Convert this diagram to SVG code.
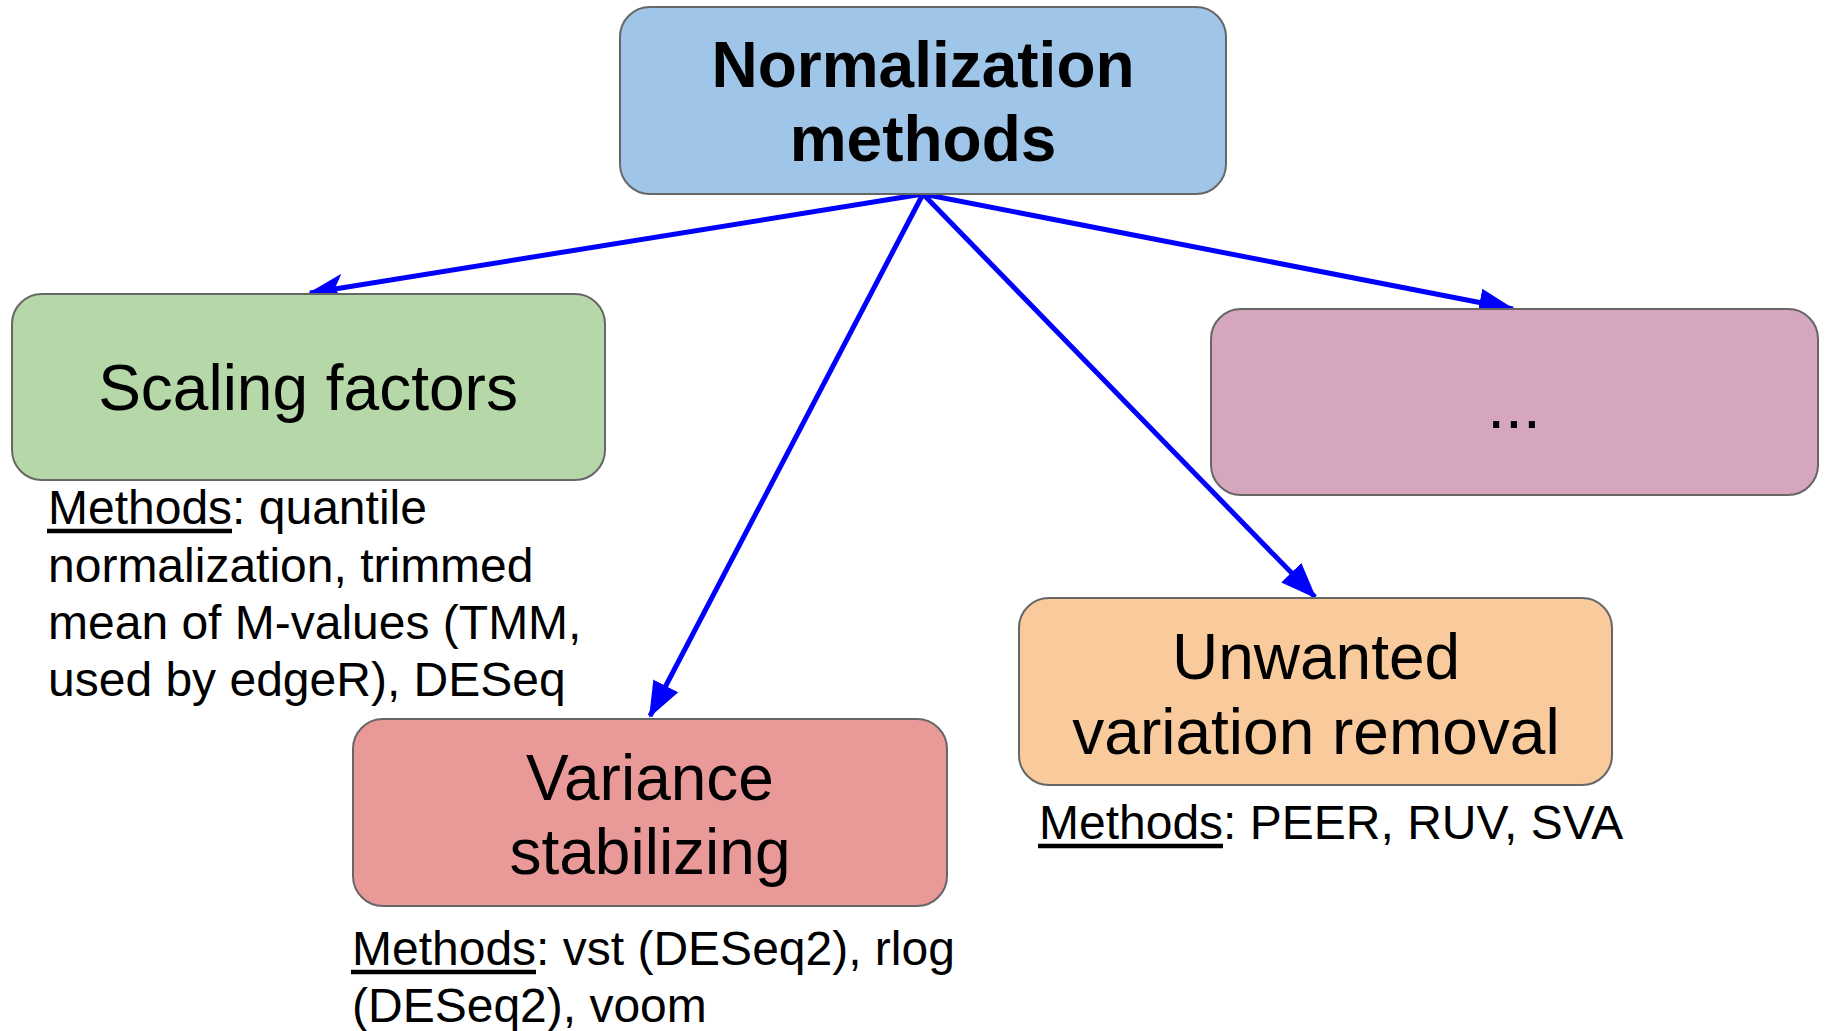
<svg xmlns="http://www.w3.org/2000/svg" width="1828" height="1031" viewBox="0 0 1828 1031">
  <style>
    .box { stroke: #666666; stroke-width: 2; }
    .title { font-family: "Liberation Sans", Arial, sans-serif; font-size: 64px; fill: #000; text-anchor: middle; }
    .bold { font-weight: bold; }
    .note { font-family: "Liberation Sans", Arial, sans-serif; font-size: 48px; fill: #000; }
    .uline { stroke: #000; stroke-width: 4.5; }
    .edge { stroke: #0000ff; stroke-width: 5; fill: none; marker-end: url(#arrow); }
    .edge.barbed { marker-end: url(#arrow-barbed); }
  </style>
  <defs>
    <marker id="arrow" viewBox="0 0 36 28" refX="34" refY="14" markerWidth="36" markerHeight="28" markerUnits="userSpaceOnUse" orient="auto">
      <path d="M0,0 L36,14 L0,28 z" fill="#0000ff"/>
    </marker>
    <marker id="arrow-barbed" viewBox="0 0 36 28" refX="34" refY="14" markerWidth="36" markerHeight="28" markerUnits="userSpaceOnUse" orient="auto">
      <path d="M0,0 L36,14 L0,28 L9,14 z" fill="#0000ff"/>
    </marker>
  </defs>

  <rect width="1828" height="1031" fill="#ffffff"/>

  <g id="connectors">
    <line class="edge barbed" x1="923" y1="194" x2="310" y2="293"/>
    <line class="edge" x1="923" y1="194" x2="650" y2="716"/>
    <line class="edge" x1="923" y1="194" x2="1315" y2="597"/>
    <line class="edge" x1="923" y1="194" x2="1513" y2="309"/>
  </g>

  <g id="normalization-methods">
    <rect class="box" x="620" y="7" width="606" height="187" rx="30" fill="#9fc5e8"/>
    <text class="title bold" x="923" y="87">Normalization</text>
    <text class="title bold" x="923" y="161">methods</text>
  </g>

  <g id="scaling-factors">
    <rect class="box" x="12" y="294" width="593" height="186" rx="30" fill="#b6d7a8"/>
    <text class="title" x="308" y="410">Scaling factors</text>
    <text class="note" x="48" y="524">Methods: quantile</text>
    <line class="uline" x1="47" y1="531" x2="232" y2="531"/>
    <text class="note" x="48" y="582">normalization, trimmed</text>
    <text class="note" x="48" y="639">mean of M-values (TMM,</text>
    <text class="note" x="48" y="696">used by edgeR), DESeq</text>
  </g>

  <g id="variance-stabilizing">
    <rect class="box" x="353" y="719" width="594" height="187" rx="30" fill="#ea9999"/>
    <text class="title" x="650" y="800">Variance</text>
    <text class="title" x="650" y="874">stabilizing</text>
    <text class="note" x="352" y="965">Methods: vst (DESeq2), rlog</text>
    <line class="uline" x1="351" y1="972" x2="536" y2="972"/>
    <text class="note" x="352" y="1022">(DESeq2), voom</text>
  </g>

  <g id="unwanted-variation-removal">
    <rect class="box" x="1019" y="598" width="593" height="187" rx="30" fill="#f9cb9c"/>
    <text class="title" x="1316" y="679">Unwanted</text>
    <text class="title" x="1316" y="754">variation removal</text>
    <text class="note" x="1039" y="839">Methods: PEER, RUV, SVA</text>
    <line class="uline" x1="1038" y1="846" x2="1223" y2="846"/>
  </g>

  <g id="other-methods">
    <rect class="box" x="1211" y="309" width="607" height="186" rx="30" fill="#d5a6bd"/>
    <text class="title" x="1514" y="428">...</text>
  </g>
</svg>
